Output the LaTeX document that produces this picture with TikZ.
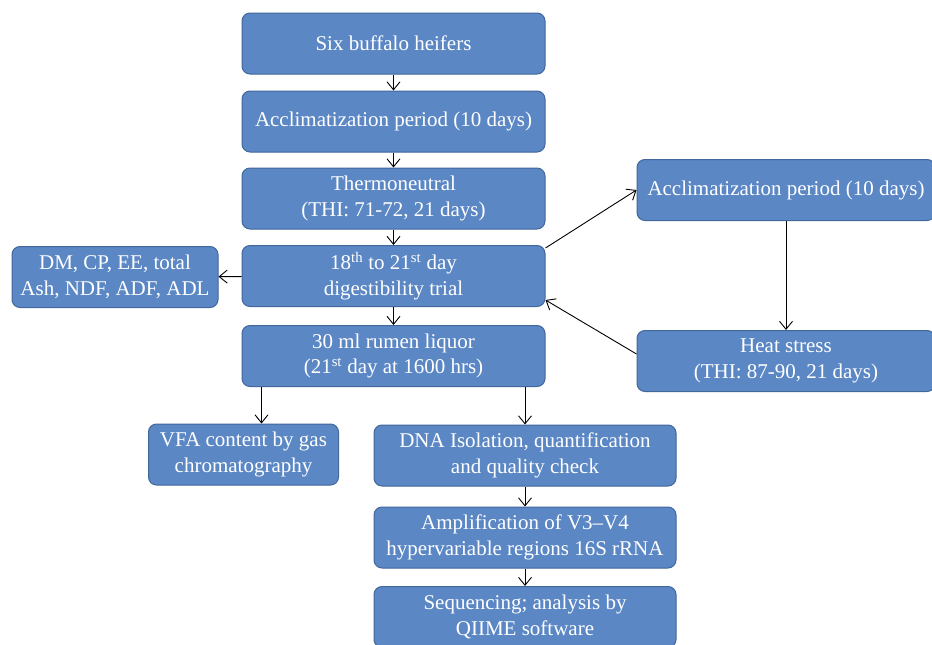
\documentclass[tikz,border=0pt]{standalone}
\usepackage{fontspec}
\setmainfont{Liberation Serif}
\usetikzlibrary{arrows.meta}

\definecolor{boxfill}{HTML}{5B87C5}
\definecolor{boxline}{HTML}{41679B}

\tikzset{
  stage/.style={draw=boxline, line width=1pt, fill=boxfill, rounded corners=8pt,
    text=white, align=center, inner sep=0pt, minimum height=61pt,
    font=\fontsize{21}{25.5}\selectfont},
  flow/.style={-{Straight Barb[length=8pt,width=13pt]}, line width=0.9pt}
}

\begin{document}
\begin{tikzpicture}[x=1pt,y=-1pt]
            \useasboundingbox (0,0) rectangle (932,645);

            \node [stage, minimum width=303pt] (six)    at (393.5,43.5)  {Six buffalo heifers};
            \node [stage, minimum width=303pt] (accl)   at (393.5,121.5) {Acclimatization period (10 days)};
            \node [stage, minimum width=303pt] (thermo) at (393.5,198.5) {Thermoneutral\\(THI: 71-72, 21 days)};
            \node [stage, minimum width=303pt] (trial)  at (393.5,276)   {18\textsuperscript{th} to 21\textsuperscript{st} day\\digestibility trial};
            \node [stage, minimum width=303pt] (liquor) at (393.5,356)   {30 ml rumen liquor\\(21\textsuperscript{st} day at 1600 hrs)};

            \node [stage, minimum width=206pt] (comp)   at (115,277)     {DM, CP, EE, total\\Ash, NDF, ADF, ADL};
            \node [stage, minimum width=298pt] (acclhs) at (786,190)     {Acclimatization period (10 days)};
            \node [stage, minimum width=298pt] (heat)   at (786,361)     {Heat stress\\(THI: 87-90, 21 days)};

            \node [stage, minimum width=190pt] (vfa)    at (243.5,454.5) {VFA content by gas\\chromatography};
            \node [stage, minimum width=302pt] (dna)    at (525,455.5)   {DNA Isolation, quantification\\and quality check};
            \node [stage, minimum width=302pt] (ampl)   at (525,537.5)   {Amplification of V3--V4\\hypervariable regions 16S rRNA};
            \node [stage, minimum width=302pt] (seq)    at (525,617)     {Sequencing; analysis by\\QIIME software};

            \draw [flow] (six) -- (accl);
            \draw [flow] (accl) -- (thermo);
            \draw [flow] (thermo) -- (trial);
            \draw [flow] (trial) -- (liquor);
            \draw [flow] (trial) -- (comp);
            \draw [flow] ([yshift=-3pt]trial.north east) -- (acclhs.west);
            \draw [flow] (acclhs) -- (heat);
            \draw [flow] ([yshift=7pt]heat.west) -- ([yshift=7pt]trial.south east);
            \draw [flow] ([xshift=-132pt]liquor.south) -- ([xshift=-132pt]liquor.south |- vfa.north);
            \draw [flow] (dna.north |- liquor.south) -- (dna.north);
            \draw [flow] (dna) -- (ampl);
            \draw [flow] (ampl) -- (seq);
\end{tikzpicture}
\end{document}
